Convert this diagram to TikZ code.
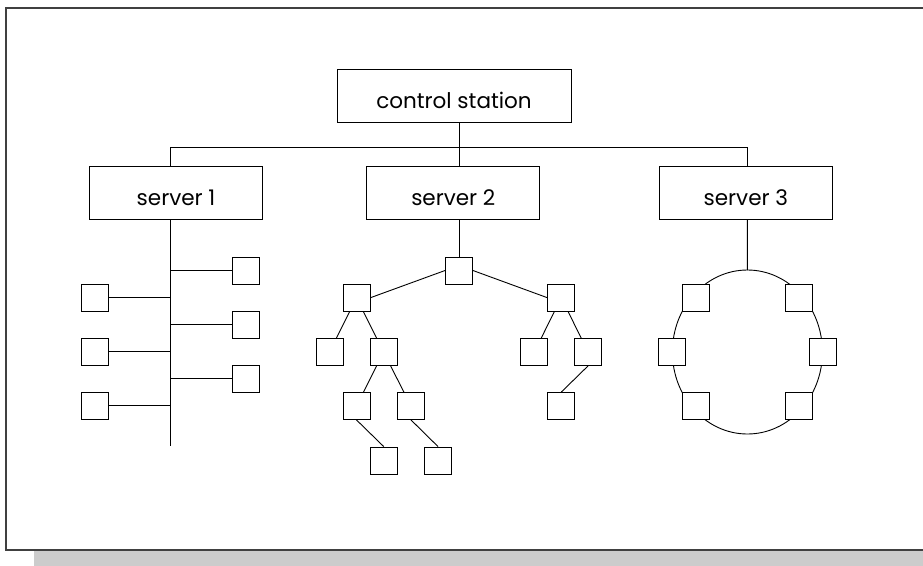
\documentclass[tikz,border=0pt]{standalone}
\usepackage{fontspec}
\setmainfont{Poppins}
\begin{document}
\begin{tikzpicture}[x=1pt,y=-1pt,line width=0.9pt,
  bigbox/.style={draw,fill=white,inner sep=0pt,minimum width=173pt,minimum height=53pt,text height=25pt,text depth=0pt,font=\fontsize{21.5}{24}\selectfont},
  sq/.style={draw,fill=white,inner sep=0pt,minimum size=27pt}]
\useasboundingbox (0,0) rectangle (923,565);
\clip (0,0) rectangle (923,565);
% shadow and frame
\fill[black!20] (34,551) rectangle (930,570);
\draw[line width=1.3pt,black!75] (6,8) rectangle (935,550);
% top level
\node[bigbox,minimum width=234pt] (cs) at (454,95.5) {control station};
\node[bigbox] (s1) at (176,192.5) {server 1};
\node[bigbox] (s2) at (453.3,192.5) {server 2};
\node[bigbox] (s3) at (745.8,192.5) {server 3};
\coordinate (busL) at (170.7,147);
\coordinate (busM) at (459,147);
\coordinate (busR) at (747.3,147);
\draw (cs.south -| busM) -- (busM);
\draw (busL) -- (busR);
\draw (busL) -- (busL |- s1.north);
\draw (busM) -- (busM |- s2.north);
\draw (busR) -- (busR |- s3.north);
% server 1 bus
\coordinate (busend) at (170.7,446);
\draw (s1.south -| busL) -- (busend);
\node[sq] (r1) at (245.9,270.5) {};
\node[sq] (r2) at (245.9,324.5) {};
\node[sq] (r3) at (245.9,378.5) {};
\node[sq] (l1) at (95.4,297.5) {};
\node[sq] (l2) at (95.4,351.5) {};
\node[sq] (l3) at (95.4,405.5) {};
\foreach \n in {r1,r2,r3} \draw (\n.west -| busL) -- (\n.west);
\foreach \n in {l1,l2,l3} \draw (\n.east -| busL) -- (\n.east);
% server 2 tree
\node[sq] (t) at (459,270.5) {};
\draw (s2.south -| busM) -- (t.north);
\node[sq] (a) at (356.5,297.7) {};
\node[sq] (b) at (561.3,297.7) {};
\node[sq] (aa) at (329.5,352) {};
\node[sq] (ab) at (383.5,352) {};
\node[sq] (ba) at (534.3,352) {};
\node[sq] (bb) at (588,352) {};
\node[sq] (aba) at (356.5,406) {};
\node[sq] (abb) at (411,406) {};
\node[sq] (bba) at (561.3,406) {};
\node[sq] (abaa) at (383.7,460.5) {};
\node[sq] (abba) at (438,460.5) {};
\draw (t.west) -- (a.east);
\draw (t.east) -- (b.west);
\draw (a) -- (aa);
\draw (a) -- (ab);
\draw (b) -- (ba);
\draw (b) -- (bb);
\draw (ab) -- (aba);
\draw (ab) -- (abb);
\draw (bb.south) -- (bba.north);
\draw (aba.south) -- (abaa.north);
\draw (abb.south) -- (abba.north);
% server 3 ring
\coordinate (ringc) at (747.4,352);
\coordinate (ringtop) at (747.4,270);
\draw (s3.south -| busR) -- (ringtop);
\draw (ringc) ellipse [x radius=75,y radius=82];
\node[sq] (g1) at (695.5,297.8) {};
\node[sq] (g2) at (799.3,297.8) {};
\node[sq] (g3) at (672,352) {};
\node[sq] (g4) at (822.7,352) {};
\node[sq] (g5) at (695.5,405.7) {};
\node[sq] (g6) at (799.3,405.7) {};
\end{tikzpicture}
\end{document}
